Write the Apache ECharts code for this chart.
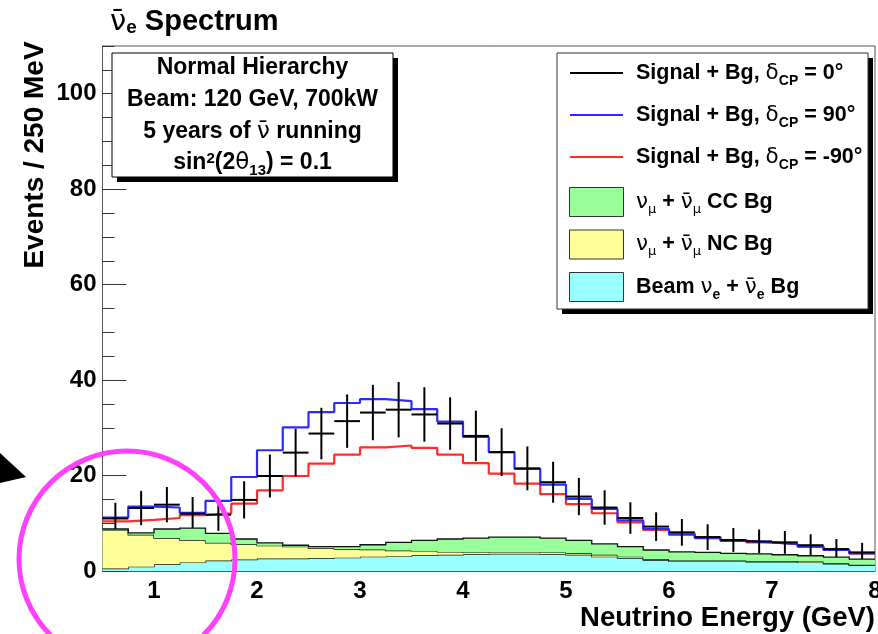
<!DOCTYPE html>
<html>
<head>
<meta charset="utf-8">
<script src="https://cdn.jsdelivr.net/npm/echarts@6/dist/echarts.min.js"></script>
<style>
  html, body { margin: 0; padding: 0; background: #ffffff; }
  #chart { width: 878px; height: 634px; }
</style>
</head>
<body>
<div id="chart"></div>
<script>
// Reconstructed energy binning (GeV), 250 MeV bins
const binLow = 0.5;
const binWidth = 0.25;
const nBins = 30;

// Axis tick labels
const xTickLabels = ['1', '2', '3', '4', '5', '6', '7', '8'];
const yTickLabels = ['0', '20', '40', '60', '80', '100'];

// Signal + background, delta_CP = 0 (drawn as points with errors)
const sigCP0 = [11.0, 13.2, 13.9, 12.0, 11.8, 14.9, 19.9, 24.8, 28.8, 31.4,
                33.2, 33.8, 32.8, 30.9, 28.3, 24.9, 21.5, 18.6, 15.6, 13.3,
                11.1, 9.3, 8.1, 7.1, 6.5, 6.2, 6.0, 5.4, 4.6, 3.9];
const sigCP0Err = [3.3, 3.6, 3.7, 3.5, 3.4, 3.9, 4.5, 5.0, 5.4, 5.6,
                   5.8, 5.8, 5.7, 5.5, 5.3, 5.0, 4.6, 4.3, 3.9, 3.6,
                   3.3, 3.0, 2.8, 2.7, 2.5, 2.5, 2.4, 2.3, 2.1, 2.0];

// Signal + background, delta_CP = +90 deg
const sigCP90 = [11.2, 13.5, 13.3, 12.2, 14.7, 19.7, 25.3, 30.1, 33.3, 35.2,
                 36.0, 35.6, 33.9, 31.3, 28.1, 24.9, 21.4, 18.1, 15.1, 13.0,
                 10.6, 8.8, 7.6, 6.9, 6.3, 6.0, 5.6, 5.1, 4.4, 3.7];

// Signal + background, delta_CP = -90 deg
const sigCPm90 = [10.4, 10.7, 11.1, 11.7, 12.1, 14.1, 16.9, 19.9, 22.5, 24.4,
                  25.9, 26.3, 25.8, 24.4, 22.6, 20.4, 18.3, 16.1, 14.0, 12.1,
                  10.2, 8.6, 7.9, 7.1, 6.5, 6.0, 5.6, 5.1, 4.4, 3.7];

// Background components, stacked bottom to top
const beamNueBg = [0.5, 0.9, 1.4, 1.8, 2.2, 2.4, 2.6, 2.6, 2.7, 2.8,
                   3.0, 3.1, 3.3, 3.4, 3.5, 3.6, 3.6, 3.5, 3.4, 3.0,
                   2.7, 2.3, 2.0, 2.0, 2.0, 1.9, 1.9, 1.8, 1.5, 1.2];
const numuNcBg = [8.0, 6.7, 5.5, 4.7, 3.7, 3.2, 2.7, 2.5, 2.1, 1.8,
                  1.5, 1.2, 0.9, 0.6, 0.4, 0.4, 0.4, 0.4, 0.3, 0.4,
                  0.3, 0.2, 0.2, 0.2, 0.2, 0.2, 0.2, 0.2, 0.1, 0.1];
const numuCcBg = [0.3, 0.4, 1.9, 2.5, 2.0, 1.1, 0.6, 0.3, 0.3, 0.5,
                  1.0, 1.7, 2.2, 2.7, 3.0, 3.1, 3.1, 3.0, 2.7, 2.3,
                  2.1, 1.9, 1.8, 1.7, 1.5, 1.5, 1.3, 1.2, 1.3, 1.2];

const FONT = '"Liberation Sans", Arial, Helvetica, sans-serif';
const GREEK = '"DejaVu Sans", "Liberation Sans", sans-serif';

const edge = i => binLow + i * binWidth;

// Histogram outline: one point per bin low edge, plus the upper edge of the last bin
function histSteps(vals) {
  const pts = vals.map((v, i) => [edge(i), v]);
  pts.push([edge(nBins), vals[nBins - 1]]);
  return pts;
}

const crossData = sigCP0.map((v, i) => [edge(i) + binWidth / 2, v, sigCP0Err[i]]);

// Stacked background layers: each layer sits on the sum of the ones below it
const stackInputs = [
  { name: 'Beam νe + ν̄e Bg', vals: beamNueBg, fill: '#99ffff' },
  { name: 'νμ + ν̄μ NC Bg', vals: numuNcBg, fill: '#ffff99' },
  { name: 'νμ + ν̄μ CC Bg', vals: numuCcBg, fill: '#99ff99' }
];
let running = new Array(nBins).fill(0);
const stackLayers = stackInputs.map(s => {
  const lower = running.slice();
  const upper = lower.map((b, i) => b + s.vals[i]);
  running = upper;
  return Object.assign({ lower: lower, upper: upper }, s);
});

function stackSeries(layer) {
  return {
    name: layer.name,
    type: 'custom',
    z: 5,
    clip: true,
    silent: true,
    data: [[edge(0), 0]],
    encode: { x: 0, y: 1 },
    renderItem: function (params, api) {
      const top = [], bottom = [];
      for (let i = 0; i < nBins; i++) {
        top.push(api.coord([edge(i), layer.upper[i]]));
        top.push(api.coord([edge(i + 1), layer.upper[i]]));
      }
      for (let i = nBins - 1; i >= 0; i--) {
        bottom.push(api.coord([edge(i + 1), layer.lower[i]]));
        bottom.push(api.coord([edge(i), layer.lower[i]]));
      }
      return {
        type: 'group',
        children: [
          { type: 'polygon', shape: { points: top.concat(bottom) }, style: { fill: layer.fill } },
          { type: 'polyline', shape: { points: top }, style: { stroke: '#111', lineWidth: 1.3, fill: null } }
        ]
      };
    }
  };
}

function histLine(name, vals, color) {
  return {
    name: name,
    type: 'line',
    step: 'end',
    symbol: 'none',
    z: 3,
    data: histSteps(vals),
    lineStyle: { color: color, width: 2.2 },
    silent: true
  };
}

// Legend entries
const legendLines = [
  { color: '#000000', text: 'Signal + Bg, {g|δ}{sub|CP} = 0°' },
  { color: '#2b2bff', text: 'Signal + Bg, {g|δ}{sub|CP} = 90°' },
  { color: '#ff2b2b', text: 'Signal + Bg, {g|δ}{sub|CP} = -90°' }
];
const legendBoxes = [
  { color: '#99ff99', text: '{g|ν}{gsub|μ} + {g|ν̄}{gsub|μ} CC Bg' },
  { color: '#ffff99', text: '{g|ν}{gsub|μ} + {g|ν̄}{gsub|μ} NC Bg' },
  { color: '#99ffff', text: 'Beam {g|ν}{sub|e} + {g|ν̄}{sub|e} Bg' }
];

function richFor(size) {
  return {
    g: { fontFamily: GREEK, fontWeight: 'normal', fontSize: size, fill: '#000', lineHeight: 30 },
    sub: { fontFamily: FONT, fontWeight: 'bold', fontSize: Math.round(size * 0.66), fill: '#000',
           lineHeight: 14, verticalAlign: 'bottom', padding: [0, 0, 0, 0] },
    gsub: { fontFamily: GREEK, fontWeight: 'normal', fontSize: Math.round(size * 0.6), fill: '#000',
            lineHeight: 14, verticalAlign: 'bottom', padding: [0, 0, 1, 0] },
    sup: { fontFamily: FONT, fontWeight: 'bold', fontSize: Math.round(size * 0.66), fill: '#000',
           lineHeight: 14, verticalAlign: 'top', padding: [3, 0, 0, 0] }
  };
}

function textEl(x, y, text, size, align, extra) {
  return Object.assign({
    type: 'text',
    x: x, y: y,
    z: 50,
    style: {
      text: text,
      fontFamily: FONT,
      fontWeight: 'bold',
      fontSize: size,
      fill: '#000',
      lineHeight: 30,
      align: align,
      verticalAlign: 'middle',
      rich: richFor(size)
    }
  }, extra || {});
}

const graphics = [];

// Title
graphics.push(textEl(110, 22, '{g|ν̄}{sub|e} Spectrum', 29, 'left'));

// Axis titles
graphics.push(textEl(35, 155, 'Events / 250 MeV', 28, 'center', { rotation: Math.PI / 2 }));
graphics.push(textEl(875, 618, 'Neutrino Energy (GeV)', 27.5, 'right'));

// Info box with drop shadow
graphics.push({ type: 'rect', z: 40, shape: { x: 117, y: 58, width: 281, height: 124 }, style: { fill: '#000' } });
graphics.push({ type: 'rect', z: 41, shape: { x: 112, y: 53, width: 281, height: 124 },
                style: { fill: '#fff', stroke: '#000', lineWidth: 1 } });
graphics.push(textEl(252.5, 68, 'Normal Hierarchy', 23, 'center'));
graphics.push(textEl(252.5, 100, 'Beam: 120 GeV, 700kW', 23, 'center'));
graphics.push(textEl(252.5, 132, '5 years of {g|ν̄} running', 23, 'center'));
graphics.push(textEl(252.5, 163, 'sin{sup|2}(2{g|θ}{sub|13}) = 0.1', 23, 'center'));

// Legend with drop shadow
graphics.push({ type: 'rect', z: 40, shape: { x: 562, y: 58, width: 311, height: 256 }, style: { fill: '#000' } });
graphics.push({ type: 'rect', z: 41, shape: { x: 557, y: 53, width: 311, height: 256 },
                style: { fill: '#fff', stroke: '#333', lineWidth: 1 } });
legendLines.forEach((d, i) => {
  const y = 73 + i * 42;
  graphics.push({ type: 'line', z: 50, shape: { x1: 570, y1: y, x2: 623, y2: y },
                  style: { stroke: d.color, lineWidth: 2 } });
  graphics.push(textEl(636, y, d.text, 21.5, 'left'));
});
legendBoxes.forEach((d, i) => {
  const y = 202 + i * 42.5;
  graphics.push({ type: 'rect', z: 50, shape: { x: 569.5, y: y - 14.5, width: 54, height: 29 },
                  style: { fill: d.color, stroke: '#333', lineWidth: 1 } });
  graphics.push(textEl(636, y, d.text, 21.5, 'left'));
});

// Annotation: arrow head and highlight ring over the low-energy region
graphics.push({ type: 'polygon', z: 60, shape: { points: [[0, 453], [26, 477], [0, 483]] },
                style: { fill: '#000' } });
graphics.push({ type: 'circle', z: 60, shape: { cx: 127, cy: 559, r: 108 },
                style: { fill: 'none', stroke: '#ff40ff', lineWidth: 5 } });

const chart = echarts.init(document.getElementById('chart'), null, { renderer: 'canvas' });
chart.setOption({
  animation: false,
  backgroundColor: '#ffffff',
  grid: {
    left: 102.5, right: 3, top: 46, bottom: 63,
    outerBoundsMode: 'none',
    containLabel: false,
    show: true, borderColor: '#555', borderWidth: 1, backgroundColor: 'transparent'
  },
  xAxis: {
    type: 'value',
    min: 0.5, max: 8, interval: 0.5,
    axisLine: { show: true, lineStyle: { color: '#555', width: 1 } },
    axisTick: { show: false },
    splitLine: { show: false },
    axisLabel: {
      show: true, showMaxLabel: true, showMinLabel: true, hideOverlap: false,
      margin: 8,
      color: '#000', fontFamily: FONT, fontWeight: 'bold', fontSize: 24,
      formatter: v => (Number.isInteger(v) ? (xTickLabels[v - 1] || '') : '')
    }
  },
  yAxis: [
    {
      type: 'value',
      min: 0, max: 110, interval: 20,
      axisLine: { show: true, lineStyle: { color: '#555', width: 1 } },
      axisTick: { show: true, inside: true, length: 24, lineStyle: { color: '#333', width: 1 } },
      splitLine: { show: false },
      axisLabel: {
        margin: 6, color: '#000', fontFamily: FONT, fontWeight: 'bold', fontSize: 24,
        showMaxLabel: false,
        formatter: v => (v % 20 === 0 ? (yTickLabels[v / 20] || '') : '')
      }
    },
    {
      // minor ticks every 5 events
      type: 'value', position: 'left',
      min: 0, max: 110, interval: 5,
      axisLine: { show: false },
      axisTick: { show: true, inside: true, length: 12, lineStyle: { color: '#333', width: 1 } },
      axisLabel: { show: false },
      splitLine: { show: false }
    }
  ],
  series: [
    histLine('Signal + Bg, δCP = -90°', sigCPm90, '#ff2b2b'),
    histLine('Signal + Bg, δCP = 90°', sigCP90, '#2b2bff'),
    {
      name: 'Signal + Bg, δCP = 0°',
      type: 'custom',
      z: 4,
      clip: true,
      silent: true,
      data: crossData,
      encode: { x: 0, y: 1 },
      renderItem: function (params, api) {
        const xc = api.value(0), v = api.value(1), e = api.value(2);
        const l = api.coord([xc - binWidth / 2, v]);
        const r = api.coord([xc + binWidth / 2, v]);
        const t = api.coord([xc, v + e]);
        const b = api.coord([xc, v - e]);
        const st = { stroke: '#000', lineWidth: 2 };
        return {
          type: 'group',
          children: [
            { type: 'line', shape: { x1: l[0], y1: l[1], x2: r[0], y2: r[1] }, style: st },
            { type: 'line', shape: { x1: t[0], y1: t[1], x2: b[0], y2: b[1] }, style: st }
          ]
        };
      }
    }
  ].concat(stackLayers.map(stackSeries)),
  graphic: graphics
});
</script>
</body>
</html>
